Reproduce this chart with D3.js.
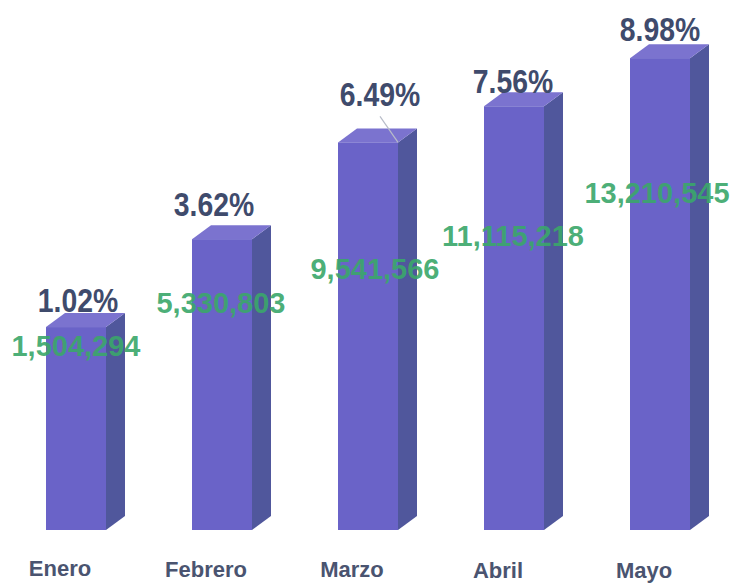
<!DOCTYPE html>
<html>
<head>
<meta charset="utf-8">
<script src="https://cdn.jsdelivr.net/npm/d3@7"></script>
<style>
  html, body { margin: 0; padding: 0; background: #fff; }
  svg { display: block; }
</style>
</head>
<body>
<svg width="734" height="584"></svg>
<script>
const months = ["Enero", "Febrero", "Marzo", "Abril", "Mayo"];
const values = [1504294, 5330803, 9541566, 11115218, 13210545];
const percents = ["1.02%", "3.62%", "6.49%", "7.56%", "8.98%"];

// hand placed label nudges (px, relative to the bar)
const pctNudge = [[2, -1], [-8, -9], [12, -22], [-1, 1], [0, -3]];
const valNudge = [[0, 29], [-1, 74], [7, 137], [-1, 140], [-3, 145]];

const svg = d3.select("svg");
const font = "'Liberation Sans', Arial, sans-serif";

const x = d3.scalePoint()
    .domain(months)
    .range([76, 660]);

const y = d3.scaleLinear()
    .domain([-7330000, 14000000])
    .range([530, 40]);

const barW = 60;
const dx = 19, dy = 14;
const base = y.domain()[0];

const g = svg.append("g");

const bars = g.selectAll(".bar")
    .data(values)
    .enter().append("g")
    .attr("class", "bar");

// side face
bars.append("path")
    .attr("fill", "#50579c")
    .attr("d", (d, i) => {
        const xr = x(months[i]) + barW / 2;
        return `M${xr},${y(d)} L${xr + dx},${y(d) - dy} L${xr + dx},${y(base) - dy} L${xr},${y(base)} Z`;
    });

// top face
bars.append("path")
    .attr("fill", "#7b73cf")
    .attr("d", (d, i) => {
        const xl = x(months[i]) - barW / 2;
        return `M${xl},${y(d)} L${xl + dx},${y(d) - dy} L${xl + barW + dx},${y(d) - dy} L${xl + barW},${y(d)} Z`;
    });

// front face
bars.append("rect")
    .attr("x", (d, i) => x(months[i]) - barW / 2)
    .attr("y", d => y(d))
    .attr("width", barW)
    .attr("height", d => y(base) - y(d))
    .attr("fill", "#6a63c8");

// leader line where the label was pushed well above the bar
g.selectAll(".leader")
    .data(values.filter((d, i) => pctNudge[i][1] < -15))
    .enter().append("line")
    .attr("class", "leader")
    .attr("x1", d => x(months[values.indexOf(d)]) + 12)
    .attr("y1", d => y(d) - dy - 12)
    .attr("x2", d => x(months[values.indexOf(d)]) + barW / 2)
    .attr("y2", d => y(d))
    .attr("stroke", "#b8bcc8")
    .attr("stroke-width", 1.2);

// green value labels
g.selectAll(".val")
    .data(values)
    .enter().append("text")
    .attr("class", "val")
    .attr("x", (d, i) => x(months[i]) + valNudge[i][0])
    .attr("y", (d, i) => y(d) + valNudge[i][1])
    .attr("text-anchor", "middle")
    .style("font-family", font)
    .style("font-weight", "bold")
    .style("font-size", "29px")
    .style("fill", "#3ba76b")
    .style("fill-opacity", 0.92)
    .text(d => d3.format(",")(d));

// percentage labels (narrow, so squeezed horizontally)
g.selectAll(".pct")
    .data(values)
    .enter().append("text")
    .attr("class", "pct")
    .attr("transform", (d, i) =>
        `translate(${x(months[i]) + pctNudge[i][0]},${y(d) - dy + pctNudge[i][1]}) scale(0.86,1)`)
    .attr("text-anchor", "middle")
    .style("font-family", font)
    .style("font-weight", "bold")
    .style("font-size", "33px")
    .style("fill", "#3f4b6c")
    .text((d, i) => percents[i]);

// month labels
g.selectAll(".month")
    .data(months)
    .enter().append("text")
    .attr("class", "month")
    .attr("x", d => x(d) - 16)
    .attr("y", (d, i) => 576 + i * 0.5)
    .attr("text-anchor", "middle")
    .style("font-family", font)
    .style("font-weight", "bold")
    .style("font-size", "22px")
    .style("fill", "#4a5470")
    .text(d => d);
</script>
</body>
</html>
